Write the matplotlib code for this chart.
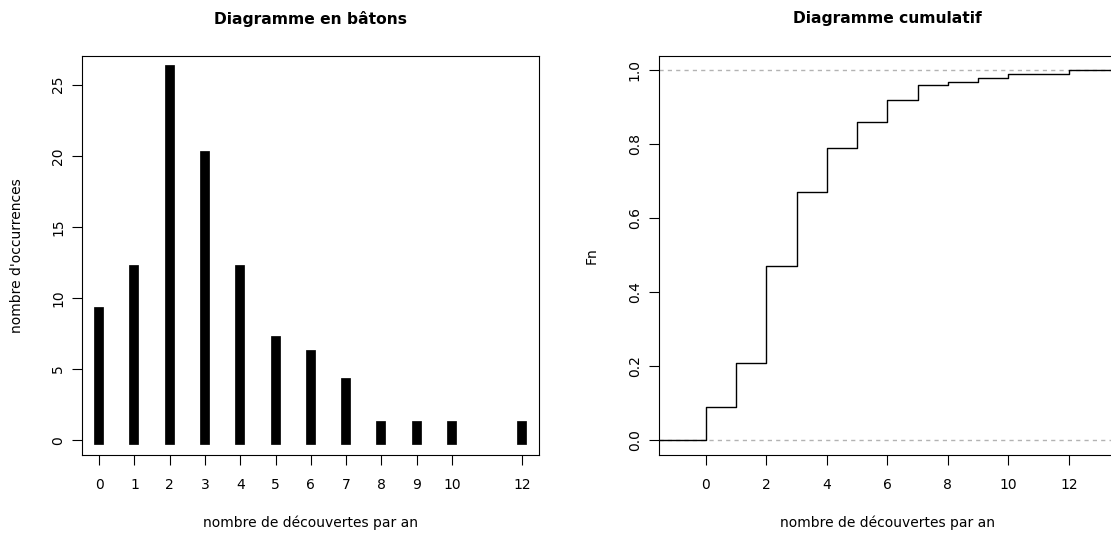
import numpy as np
import matplotlib
matplotlib.use("Agg")
import matplotlib.pyplot as plt
from matplotlib.ticker import FormatStrFormatter

plt.rcParams['font.family'] = ['DejaVu Sans']

# ---- data ----
values = [0, 1, 2, 3, 4, 5, 6, 7, 8, 9, 10, 12]
counts = [9, 12, 26, 20, 12, 7, 6, 4, 1, 1, 1, 1]
tick_labels = [str(v) for v in values]
left_yticks = [0, 5, 10, 15, 20, 25]
right_xticks = [0, 2, 4, 6, 8, 10, 12]
right_yticks = [0.0, 0.2, 0.4, 0.6, 0.8, 1.0]

title_left = "Diagramme en bâtons"
title_right = "Diagramme cumulatif"
xlabel = "nombre de découvertes par an"
ylabel_left = "nombre d'occurrences"
ylabel_right = "Fn"

# ---- layout ----
W, H = 1111, 536
fig = plt.figure(figsize=(W / 100, H / 100), dpi=100)


def px_rect(l, t, r, b):
    return [l / W, 1 - b / H, (r - l) / W, (b - t) / H]


ax1 = fig.add_axes(px_rect(82.3, 55.7, 539.3, 455))
ax2 = fig.add_axes(px_rect(658.7, 55.7, 1116, 455))

TICK_LEN = 7.2
FS = 10

for ax in (ax1, ax2):
    for sp in ax.spines.values():
        sp.set_linewidth(0.8)
        sp.set_color('black')
    ax.tick_params(direction='out', length=TICK_LEN, width=0.8, labelsize=FS,
                   colors='black')
    ax.tick_params(axis='x', pad=9.5)
    ax.tick_params(axis='y', pad=5, labelrotation=90)

# ---- left: bar sticks ----
vl = ax1.vlines(values, 0, counts, colors='black', linewidth=7.0)
vl.set_capstyle('projecting')
ymax = max(counts)
ax1.set_xlim(min(values) - 0.04 * (max(values) - min(values)),
             max(values) + 0.04 * (max(values) - min(values)))
ax1.set_ylim(-0.04 * ymax, 1.04 * ymax)
ax1.set_xticks(values)
ax1.set_xticklabels(tick_labels)
ax1.set_yticks(left_yticks)
for lbl in ax1.get_yticklabels():
    lbl.set_va('center')

# ---- right: cumulative step function ----
cum = np.cumsum(counts) / np.sum(counts)
lo, hi = min(values) - 1, max(values) + 1
span = hi - lo
xlim = (lo - 0.04 * span, hi + 0.04 * span)
ax2.set_xlim(*xlim)
ax2.set_ylim(-0.04, 1.04)
ax2.axhline(0, color='#B3B3B3', linewidth=1.0, linestyle=(0, (3, 3)), zorder=1)
ax2.axhline(1, color='#B3B3B3', linewidth=1.0, linestyle=(0, (3, 3)), zorder=1)
xs = np.concatenate([[xlim[0] - 1], values, [xlim[1] + 1]])
ys = np.concatenate([[0.0], cum, [1.0]])
ax2.step(xs, ys, where='post', color='black', linewidth=1.0, zorder=2)
ax2.set_xticks(right_xticks)
ax2.set_yticks(right_yticks)
ax2.yaxis.set_major_formatter(FormatStrFormatter('%.1f'))
for lbl in ax2.get_yticklabels():
    lbl.set_va('center')

# ---- titles and labels ----
for ax, title, ylab, ax_left, ax_w, ylab_x in (
        (ax1, title_left, ylabel_left, 82.3, 457.0, 17.5),
        (ax2, title_right, ylabel_right, 658.7, 457.3, 592.0)):
    ax.set_title(title, fontsize=11.2, fontweight='bold',
                 y=1 + (55.7 - 18.6) / 399.3, va='center', pad=0)
    ax.set_xlabel(xlabel, fontsize=FS)
    ax.xaxis.set_label_coords(0.5, -(523 - 455) / 399.3)
    ax.xaxis.label.set_va('center')
    ax.set_ylabel(ylab, fontsize=FS)
    ax.yaxis.set_label_coords((ylab_x - ax_left) / ax_w, 0.5)
    ax.yaxis.label.set_va('center')

fig.savefig('out.png', dpi=100)
